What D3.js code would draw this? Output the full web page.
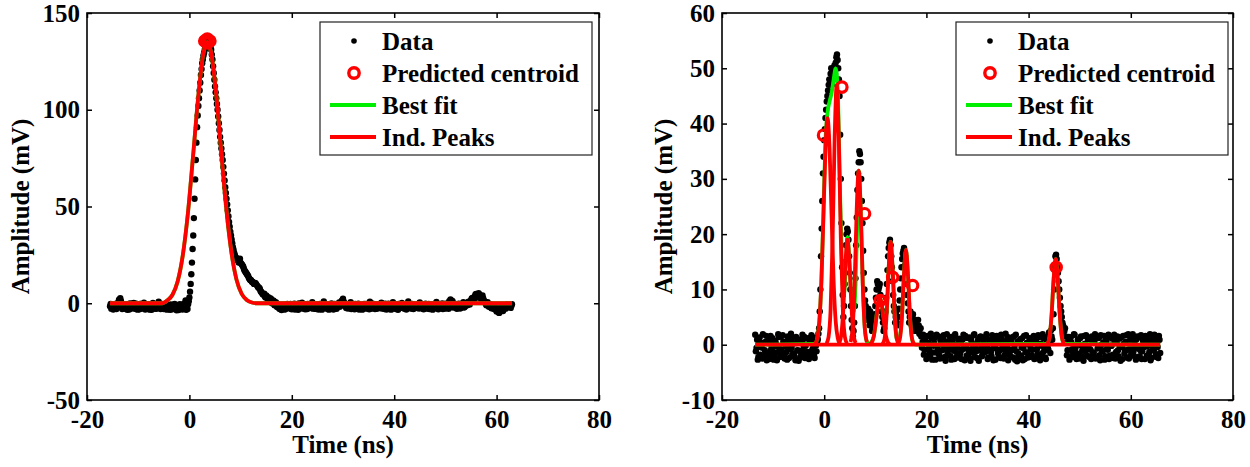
<!DOCTYPE html>
<html>
<head>
<meta charset="utf-8">
<script src="https://cdn.jsdelivr.net/npm/d3@7"></script>
<style>
  body { margin: 0; background: #fff; }
</style>
</head>
<body>
<script>
// sampling of the scope traces (ns); a second array holds the samples half a step later
var step = 0.25;
var xTicks = [-20, 0, 20, 40, 60, 80];

// ---- left panel: single pulse ----
var leftStart = -15.5;
var leftValues = [
  -1.5,-2.8,-0.6,-2.2,-1.0,-3.0,-0.4,1.8,2.6,-0.8,-2.4,-1.2,-2.9,-0.5,-1.8,-3.2,-1.0,-0.2,-2.5,-1.4,
  -2.6,-0.9,-1.7,-3.1,-0.3,-1.9,-2.7,-0.7,-1.3,-2.4,-0.5,-3.3,-1.6,-0.8,-2.2,-1.1,-2.9,-0.4,0.8,-1.8,
  -2.5,-1.0,-3.0,-1.7,-0.6,-2.3,-1.4,-3.4,-2.0,-0.9,-2.8,-1.5,-3.6,-2.2,-1.0,-2.6,-0.8,-1.9,-0.2,1.5,
  -2.8,-0.5,3,10,21,35,54,74,91,102,110,118,124,128,131,133,135,136,134,131,
  126,119,112,106,100,93,86,80,74,67,60,54,48,42,37,33,29,26,24,23,
  22,22.5,21,20,19,17,16,15,14,12.5,12,11,10.5,10,10,9,8,7.5,6,5,
  4.5,3.5,4,2.5,3,1.5,2,0.5,1,-0.5,0,-1.5,-2.5,-1,-3.5,-2,-1.2,-3,-1.8,-0.6,
  -2.2,-0.4,-3.1,-1.5,-0.2,-2.6,-1.1,-3.4,-0.7,-1.9,0.3,-2.8,-1.3,-0.5,-3.0,-1.7,-0.9,-2.4,0.6,-1.6,
  -2.9,-0.8,-1.4,-3.2,-0.3,-2.1,-1.0,0.9,-2.5,-1.2,-0.6,-3.3,-1.8,-0.1,-2.4,-1.5,-0.7,-2.9,-1.1,0.4,
  -1.3,1.2,2.3,0.2,-1.6,-0.5,-2.7,-1.0,0.5,-2.2,-1.4,-3.1,-0.6,-1.9,-0.2,-2.6,-1.2,-3.3,-0.9,-1.7,
  -0.3,-2.5,-1.1,0.8,-2.8,-1.5,-0.4,-3.0,-1.8,-0.7,-2.3,-1.0,0.3,-2.7,-1.4,-0.2,-3.2,-1.6,-0.8,-2.1,
  -1.2,0.6,-2.6,-1.7,-0.5,-3.4,-1.1,-2.0,0.2,-1.5,-2.9,-0.7,-1.8,0.9,-2.4,-1.3,-0.4,-3.0,-1.6,-0.9,
  -2.5,-1.0,0.4,-2.2,-1.6,-3.1,-0.6,-1.4,-2.8,-0.3,-1.9,-1.0,-3.3,-0.8,-2.1,0.7,-1.5,-2.6,-0.5,-1.2,
  -3.0,-1.8,-0.2,-2.4,-1.1,1.0,2.0,-0.7,-2.2,-1.4,-0.3,-2.9,-1.6,-0.6,-2.3,-1.0,0.5,-2.0,-1.3,-0.1,
  0.8,-0.6,1.5,2.8,1.2,3.6,4.8,3.0,5.2,3.8,2.2,4.0,1.6,0.4,-1.0,0.6,-1.8,-0.5,-2.6,-1.2,
  -3.0,-1.8,-4.2,-2.6,-5.0,-3.5,-2.0,-4.0,-1.5,-2.8,-0.6,-1.9,-0.8,-2.4,-0.5
];
var leftValuesMid = [
  -0.3,-1.9,-3.2,-1.1,-2.6,0.0,-1.6,0.6,1.2,-3.0,-0.6,-2.0,-0.9,-3.4,-1.3,-0.1,-2.7,-1.6,0.2,-2.9,
  -0.2,-3.3,-1.2,-0.4,-2.6,-1.0,0.3,-3.2,-1.9,-0.6,-2.3,-1.1,-3.4,0.1,-1.5,-2.8,-0.7,-2.1,-1.4,-3.0,
  -0.4,-2.7,-1.3,-0.2,-3.3,-1.0,-2.5,-0.6,-3.1,-1.7,-0.4,-2.5,-1.1,-3.5,-0.5,-2.0,-3.2,-1.2,-2.9,-3.4,
  -3.0,1.0,6,15,28,44,64,83,97,106,114,121,126,129.5,132,134,135.5,135,132.5,128.5,
  122.5,115.5,109,103,96.5,89.5,83,77,70.5,63.5,57,51,45,39.5,35,31,27.5,25,23.5,22.5,
  21,23,20.5,19.5,18,16.5,15.5,14.5,13,12,11.5,11,10,10.5,9.5,8.5,8,6.5,5.5,4.5,
  5,3,3.5,2,1.5,2.5,0,1.5,-1,0.5,-2,-0.5,-3,-1.5,-2.5,-0.8,-3.2,-1.4,-0.3,-2.6,
  -1.1,-2.9,-0.8,-2.0,-3.2,-0.6,-1.8,-0.1,-2.6,-1.3,-2.2,-0.7,-3.1,-1.9,-0.4,-2.5,-1.2,-0.2,-2.8,-0.9,
  -1.7,-3.0,-0.5,-2.2,-1.2,-3.3,-0.1,-1.7,-0.8,-2.9,-1.9,-0.6,-2.6,-1.1,-3.2,-0.4,-2.0,-1.3,-0.3,-1.8,
  0.5,1.6,0.9,-0.8,-2.5,-1.2,-0.4,-2.0,-3.0,-0.6,-1.8,-0.3,-2.5,-1.1,-3.2,-0.7,-2.1,-1.5,-0.3,-2.8,
  -1.4,-0.5,-3.1,-1.9,-0.1,-2.4,-1.2,-0.6,-2.9,-1.5,-0.4,-2.6,-1.7,-0.5,-3.0,-1.1,-2.3,-0.2,-1.6,-3.3,
  -0.4,-1.9,-0.8,-3.0,-1.5,-0.3,-2.5,-1.0,-2.2,-0.6,-1.4,-3.2,-0.2,-1.7,-0.9,-2.8,-1.9,-0.6,-2.4,-1.1,
  -0.3,-2.7,-1.5,-0.8,-2.9,-1.1,-0.2,-2.4,-1.7,-3.0,-0.6,-2.2,-1.4,-0.4,-2.6,-1.0,-3.1,-0.9,-2.0,-0.1,
  -1.4,-2.8,-0.7,-1.6,-2.9,0.2,1.4,1.2,-1.4,-0.4,-2.5,-1.2,-0.2,-2.7,-1.5,-0.6,-2.2,-1.0,0.2,-0.9,
  0.2,0.9,2.4,1.8,2.5,4.5,3.9,4.4,4.6,2.9,3.2,2.6,0.8,-0.3,0.2,-0.9,-1.3,-2.1,-1.7,-2.4,
  -2.2,-3.3,-3.6,-4.6,-4.2,-2.8,-3.1,-2.6,-2.1,-1.4,-1.3,-1.5,-1.7,-1.4
];
var leftFitT = [-15.5,-5.3,-4.3,-3.3,-2.3,-1.3,-0.3,0.7,1.7,2.7,3.5,4.2,5.2,6.2,7.2,8.2,9.2,10.2,11.2,12.2,13.2,63];
var leftFitV = [0,0,1.5,4.4,11.2,24.6,46.3,75.6,106,128.8,135,130,109,78.7,49,26.4,12.2,4.9,1.7,0.4,0,0];
var leftCentroidT = [3.0, 3.5, 4.0, 3.5];
var leftCentroidV = [135.5, 134.5, 135.5, 136.5];
var leftYTicks = [-50, 0, 50, 100, 150];

// ---- right panel: pile-up of several pulses ----
var rightStart = -13.5;
var rightValues = [
  1.8,-0.6,-2.7,0.6,-1.8,-0.5,1.9,-1.9,0.5,-2.8,0.7,-2.6,1.6,-1.6,-0.4,-1.9,0.4,-2.8,1.9,-0.7,
  1.5,-1.5,0.6,-2.5,-0.3,-2.7,1.0,-0.8,2.0,-1.8,0.2,-2.2,1.4,-1.0,-2.9,0.8,-1.7,1.8,-0.4,-2.4,
  1.1,-1.3,-2.6,0.4,1.7,-0.7,-2.0,0.9,-1.2,1.0,3,10,21,31,37,41,44,46,48,49,
  47,49,50.5,51,52.5,50,45,30,14,5,11,18,21,19,13,7,3,2.5,7,18,
  28,33,34.5,30,22,13,8,6,5,4.5,6,4,3,4,7,10,11,10.5,9,6,
  4,3,6,11,16,18.5,18,14,9,6,5,4,5,8,12,15.5,17,16,13,9,
  6,5,4.5,5,4,3.5,4,3,3.5,2,1.5,0.5,-1.8,0.9,-2.6,1.6,-0.6,-2.2,1.2,-1.4,
  0.3,-2.7,1.8,-0.9,-1.9,0.8,-2.4,1.3,-0.3,-2.9,1.9,-1.1,0.4,-2.1,-0.6,1.5,-2.6,0.0,-1.5,1.0,
  -2.3,0.6,-0.9,1.8,-2.8,-0.2,1.2,-1.7,-2.5,0.9,-0.7,1.7,-2.2,-1.2,0.3,-2.9,1.4,-0.5,-1.8,0.8,
  -1.3,1.9,-2.6,0.2,-0.9,-2.1,1.1,-0.3,-2.7,1.6,-1.5,0.5,-2.4,1.0,-0.8,-1.9,2.0,-0.1,-2.8,0.7,
  -1.1,1.3,-2.3,-0.4,1.8,-3.0,-1.6,0.4,-2.0,1.2,-0.6,-2.6,1.7,-1.4,0.1,-2.2,0.9,-0.9,1.6,-2.5,
  0.5,-1.7,1.4,-2.8,-0.2,1.9,-1.2,-2.3,0.7,-0.6,2.2,-1.5,1.5,3,10,16,15.5,13,10,7,
  5,3.5,2.5,1.5,-1.9,0.6,-2.7,1.3,-0.8,-2.2,1.8,-0.3,-1.6,0.9,-2.5,1.5,-1.1,-2.9,0.2,1.7,
  -2.0,-0.5,1.1,-2.6,0.4,-1.4,1.9,-2.3,-0.7,1.2,-2.8,0.0,-1.2,1.6,-2.1,0.7,-0.9,-2.6,1.4,-0.2,
  -1.8,1.8,-2.5,0.3,-1.0,1.1,-2.9,-0.4,1.6,-1.6,0.5,-2.3,1.9,-0.8,-2.0,1.0,-1.3,0.2,-2.7,1.5,
  -0.6,-2.1,1.7,-1.2,0.4,-2.6,1.2,-0.3,-1.8,1.9,-2.4,0.6,-1.0,1.3,-2.2,-0.4,1.6,-1.5
];
var rightValuesMid = [
  -1.2,0.9,-2.2,1.3,-0.1,-2.5,0.3,-1.0,1.6,-1.5,-2.1,0.2,-0.8,1.2,-2.7,0.7,-1.4,-0.3,1.4,-2.2,
  -0.9,1.7,-2.0,0.1,-1.3,1.5,-2.4,0.5,-0.6,1.2,-1.6,-2.8,0.3,1.0,-1.1,-2.3,0.6,-1.3,1.4,-0.2,
  -2.1,1.2,-1.9,0.9,-1.1,1.3,-2.4,-0.2,0.6,2.0,6,16,26,34,39,42.5,45,47,47.5,50,
  48.5,50,49,52,51.5,48,38,22,9,7,15,20,20.5,16,10,4.5,1.5,4,12,23,
  31,35,33,26,17,10,7,4.5,6.5,3.5,5,2.5,4.5,5.5,8.5,11.5,10,11,7.5,5,
  2.5,4.5,8.5,13.5,17.5,19,16,11.5,7,4,6,3.5,6.5,10,14,16.5,17.5,14.5,11,7.5,
  4,6,3.5,5.5,2.5,4.5,2.5,4.5,2,3,-0.5,1.8,-0.9,1.4,-2.0,0.3,-1.2,2.0,-2.7,-0.2,
  1.2,-1.4,-0.3,1.5,-2.5,0.1,-1.0,1.7,-2.2,0.6,-1.8,-0.5,1.4,-2.7,0.8,-1.1,1.9,-2.3,-0.4,1.1,
  -1.6,-2.6,1.0,-0.4,1.6,-2.0,-0.8,1.3,-2.9,0.4,-1.4,1.9,-0.6,-2.4,0.9,-1.0,1.5,-2.1,0.1,-1.2,
  1.4,-0.6,-2.3,0.9,-1.3,1.7,-2.8,0.3,-0.7,1.1,-2.2,-1.0,1.8,-0.4,-2.5,0.6,-1.5,1.4,-0.8,-2.0,
  0.8,-0.9,1.5,-2.7,-1.2,0.6,-2.2,1.0,-0.5,-2.8,1.6,-1.4,0.3,-2.3,1.2,-0.6,-1.9,1.3,-2.6,0.2,
  -0.8,1.7,-2.1,0.2,-1.6,1.2,-0.3,-2.6,1.4,-0.9,0.5,2.6,0.9,5.5,14,16.3,14,11.5,8.5,6,
  4,2.5,3,0.4,-1.0,1.4,-2.3,0.4,-1.4,1.9,-0.7,-2.6,0.9,-1.8,1.2,-0.2,-2.2,1.6,-1.2,-0.5,
  1.0,-2.2,-0.9,1.5,-1.7,0.6,-2.5,1.2,-0.3,-1.9,1.7,-1.0,0.4,-2.7,1.0,-0.6,1.8,-2.0,-0.2,1.1,
  -2.4,0.7,-1.3,1.5,-2.1,-0.3,1.3,-2.6,0.2,-1.1,1.7,-0.9,-2.5,0.9,-1.6,1.9,-0.4,-2.2,1.0,-0.7,
  1.4,-1.0,-2.6,0.8,-0.4,1.6,-2.0,0.5,-1.3,-2.8,1.0,-0.6,1.8,-1.7,0.3,-2.4,0.9
];
var rightBestT = [-13.5,-1.75,-1.35,-0.95,-0.55,-0.15,0.25,0.65,1.05,1.45,1.85,2.25,2.65,3.05,3.45,3.85,4.25,4.55,4.95,5.35,5.75,6.15,6.55,6.75,7.15,7.55,7.95,8.35,8.9,9.7,10.5,10.9,11.3,11.7,12.2,12.6,13.0,13.4,13.8,14.2,14.6,15.2,15.6,16.0,16.4,16.8,17.2,17.6,18.0,43.7,44.1,44.5,44.9,45.3,45.7,46.1,46.5,46.9,65.75];
var rightBestV = [0,0.2,1.2,4.2,11.5,24,37,42,44,45.5,48,50,46,30,15,9,14.5,19.5,15,8,6,11,25,31.5,24.5,11,3,0.6,0.2,1.5,7,8.5,7.1,4.8,5.5,13.6,18.6,13.5,5.3,1.1,1.1,4.8,12.5,17.2,12.5,4.8,1.0,0.1,0,0.2,1.4,5.4,11.9,15.5,11.9,5.4,1.4,0.2,0];
var indPeakT = [
  [-13.5, 65.75],
  [-1.75,-1.35,-0.95,-0.55,-0.15,0.25,0.65,1.05,1.45,1.85,2.25,2.65,3.05],
  [0.45,0.85,1.25,1.65,2.05,2.45,2.85,3.25,3.65,4.05,4.45],
  [2.95,3.35,3.75,4.15,4.55,4.95,5.35,5.75,6.15],
  [5.15,5.55,5.95,6.35,6.75,7.15,7.55,7.95,8.35],
  [8.9,9.3,9.7,10.1,10.5,10.9,11.3,11.7,12.1,12.5,12.9],
  [11.4,11.8,12.2,12.6,13.0,13.4,13.8,14.2,14.6],
  [14.4,14.8,15.2,15.6,16.0,16.4,16.8,17.2,17.6],
  [43.7,44.1,44.5,44.9,45.3,45.7,46.1,46.5,46.9]
];
var indPeakV = [
  [0, 0],
  [0.2,1.2,4.2,11.4,23.2,35.5,41,35.5,23.2,11.4,4.2,1.2,0.2],
  [0.2,1.4,6.3,19.3,37.6,47,37.6,19.3,6.3,1.4,0.2],
  [0.3,1.8,6.6,14.6,19,14.6,6.6,1.8,0.3],
  [0.5,2.9,10.9,24.2,31.5,24.2,10.9,2.9,0.5],
  [0.1,0.4,1.5,4.0,7.0,8.5,7.0,4.0,1.5,0.4,0.1],
  [0.1,1.0,5.2,13.5,18.6,13.5,5.2,1.0,0.1],
  [0.1,1.0,4.8,12.5,17.2,12.5,4.8,1.0,0.1],
  [0.2,1.4,5.4,11.9,15.5,11.9,5.4,1.4,0.2]
];
var rightCentroidT = [-0.13, 3.46, 7.9, 10.96, 13.4, 17.3, 45.4];
var rightCentroidV = [37.9, 46.6, 23.7, 8.0, 12.2, 10.7, 14];
var rightYTicks = [-10, 0, 10, 20, 30, 40, 50, 60];

var legendLabels = ["Data", "Predicted centroid", "Best fit", "Ind. Peaks"];

var FONT = "'Liberation Serif', 'Times New Roman', serif";
var RED = "#ff0000", GREEN = "#00ee00";

var svg = d3.select("body").append("svg")
    .attr("width", 1250)
    .attr("height", 467);

function styleText(sel) {
    sel.style("font-family", FONT)
       .style("font-size", "25px")
       .style("font-weight", "bold")
       .attr("fill", "#000");
}

// plain hyphen for negative numbers, like the original figure
function fmt(d) { return String(d); }

function drawPanel(p) {
    var top = 13, bottom = 400;
    var x = d3.scaleLinear().domain([-20, 80]).range([p.left, p.right]);
    var y = d3.scaleLinear().domain(p.yDomain).range([bottom, top]);
    var g = svg.append("g");

    // data points (main samples + half-step samples)
    var pts = p.values.map(function(v, i) { return {t: p.start + i * step, v: v}; })
        .concat(p.mid.map(function(v, i) { return {t: p.start + step / 2 + i * step, v: v}; }));
    g.selectAll(".dot")
        .data(pts)
        .enter()
        .append("circle")
        .attr("cx", function(d) { return x(d.t); })
        .attr("cy", function(d) { return y(d.v); })
        .attr("r", 3.2)
        .attr("fill", "#000");

    var line = d3.line()
        .x(function(d) { return x(d[0]); })
        .y(function(d) { return y(d[1]); })
        .curve(d3.curveMonotoneX);

    // best fit (green) then individual peaks (red)
    g.append("path")
        .attr("d", line(d3.zip(p.bestT, p.bestV)))
        .attr("fill", "none")
        .attr("stroke", GREEN)
        .attr("stroke-width", 3.8);
    p.peaksT.forEach(function(ts, k) {
        g.append("path")
            .attr("d", line(d3.zip(ts, p.peaksV[k])))
            .attr("fill", "none")
            .attr("stroke", RED)
            .attr("stroke-width", 3.8)
            .attr("stroke-linejoin", "round");
    });

    // centroids
    g.selectAll(".cen")
        .data(d3.zip(p.cenT, p.cenV))
        .enter()
        .append("circle")
        .attr("cx", function(d) { return x(d[0]); })
        .attr("cy", function(d) { return y(d[1]); })
        .attr("r", 5.2)
        .attr("fill", "none")
        .attr("stroke", RED)
        .attr("stroke-width", 3.2);

    // axes with inward ticks on all four sides
    var ax = g.append("g").attr("transform", "translate(0," + bottom + ")")
        .call(d3.axisBottom(x).tickValues(xTicks).tickFormat(fmt).tickSizeInner(-5).tickSizeOuter(0).tickPadding(10));
    ax.select(".domain").remove();
    styleText(ax.selectAll("text"));

    var axT = g.append("g").attr("transform", "translate(0," + top + ")")
        .call(d3.axisTop(x).tickValues(xTicks).tickSizeInner(-5).tickSizeOuter(0).tickFormat(""));
    axT.select(".domain").remove();

    var ay = g.append("g").attr("transform", "translate(" + p.left + ",0)")
        .call(d3.axisLeft(y).tickValues(p.yTicks).tickFormat(fmt).tickSizeInner(-5).tickSizeOuter(0).tickPadding(7));
    ay.select(".domain").remove();
    styleText(ay.selectAll("text"));

    var ayR = g.append("g").attr("transform", "translate(" + p.right + ",0)")
        .call(d3.axisRight(y).tickValues(p.yTicks).tickSizeInner(-5).tickSizeOuter(0).tickFormat(""));
    ayR.select(".domain").remove();

    g.selectAll(".tick line").attr("stroke", "#000").attr("stroke-width", 1.5);

    g.append("rect")
        .attr("x", p.left).attr("y", top)
        .attr("width", p.right - p.left).attr("height", bottom - top)
        .attr("fill", "none").attr("stroke", "#000").attr("stroke-width", 1.6);

    // axis titles
    g.append("text")
        .attr("x", (p.left + p.right) / 2)
        .attr("y", 453)
        .attr("text-anchor", "middle")
        .text("Time (ns)")
        .call(styleText);
    g.append("text")
        .attr("transform", "translate(" + p.yLabelX + "," + (top + bottom) / 2 + ") rotate(-90)")
        .attr("text-anchor", "middle")
        .text("Amplitude (mV)")
        .call(styleText);

    // legend
    var lg = g.append("g").attr("transform", "translate(" + p.legendX + ",22)");
    lg.append("rect")
        .attr("width", 272).attr("height", 133)
        .attr("fill", "#fff").attr("stroke", "#222").attr("stroke-width", 1.2);
    var rows = [19, 51, 83, 115];
    lg.append("circle").attr("cx", 34).attr("cy", rows[0]).attr("r", 2.8).attr("fill", "#000");
    lg.append("circle").attr("cx", 34).attr("cy", rows[1]).attr("r", 5.2)
        .attr("fill", "none").attr("stroke", RED).attr("stroke-width", 3.4);
    lg.append("line").attr("x1", 10).attr("x2", 56).attr("y1", rows[2]).attr("y2", rows[2])
        .attr("stroke", GREEN).attr("stroke-width", 3.8);
    lg.append("line").attr("x1", 10).attr("x2", 56).attr("y1", rows[3]).attr("y2", rows[3])
        .attr("stroke", RED).attr("stroke-width", 3.8);
    legendLabels.forEach(function(lbl, i) {
        lg.append("text")
            .attr("x", 62).attr("y", rows[i]).attr("dy", "0.35em")
            .text(lbl)
            .call(styleText);
    });
}

drawPanel({
    left: 87, right: 599, yDomain: [-50, 150], yTicks: leftYTicks,
    start: leftStart, values: leftValues, mid: leftValuesMid,
    bestT: leftFitT, bestV: leftFitV,
    peaksT: [leftFitT], peaksV: [leftFitV],
    cenT: leftCentroidT, cenV: leftCentroidV,
    yLabelX: 29, legendX: 320
});

drawPanel({
    left: 722, right: 1233, yDomain: [-10, 60], yTicks: rightYTicks,
    start: rightStart, values: rightValues, mid: rightValuesMid,
    bestT: rightBestT, bestV: rightBestV,
    peaksT: indPeakT, peaksV: indPeakV,
    cenT: rightCentroidT, cenV: rightCentroidV,
    yLabelX: 672, legendX: 956
});
</script>
</body>
</html>
